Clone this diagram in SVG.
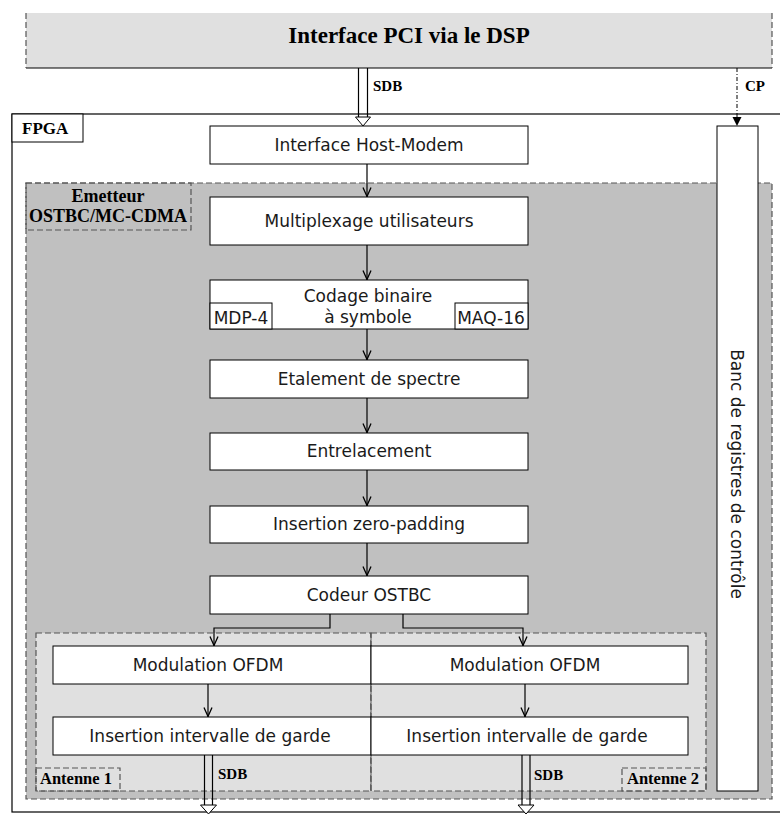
<svg xmlns="http://www.w3.org/2000/svg" width="780" height="814" viewBox="0 0 780 814">
<defs>
<marker id="v" markerWidth="10" markerHeight="10" refX="10" refY="5" orient="auto" markerUnits="userSpaceOnUse" viewBox="0 0 10 10">
<path d="M0.5,1 L9.5,5 L0.5,9" fill="none" stroke="#000" stroke-width="1.3"/>
</marker>
<style>
.box{fill:#fff;stroke:#000;stroke-width:1}
.t{font-family:"DejaVu Sans",Verdana,sans-serif;font-size:17px;fill:#1a1a1a;text-anchor:middle}
.b{font-family:"Liberation Serif","Times New Roman",serif;font-weight:bold;fill:#000}
.dash{stroke:#555;stroke-width:1.2;stroke-dasharray:6,3;fill:none}
.ln{stroke:#000;stroke-width:1.2;fill:none}
.arr{stroke:#000;stroke-width:1.2;fill:none;marker-end:url(#v)}
.hollow{fill:#fff;stroke:#000;stroke-width:1}
</style>
</defs>

<g id="pci">
<rect x="26" y="13" width="746" height="55" fill="#e0e0e0"/>
<line x1="26" y1="68" x2="772" y2="68" class="ln"/>
<line x1="26" y1="13" x2="26" y2="68" class="dash"/>
<line x1="772" y1="13" x2="772" y2="68" class="dash"/>
<text x="409" y="43" class="b" font-size="23" text-anchor="middle">Interface PCI via le DSP</text>
</g>

<g id="fpga">
<rect x="12" y="114" width="772" height="698" fill="none" stroke="#000" stroke-width="1.2"/>
<rect x="12" y="114" width="71" height="28" class="box"/>
<text x="22" y="134" class="b" font-size="17">FPGA</text>
</g>

<g id="emetteur">
<rect x="26" y="183" width="746" height="616" class="dash" style="fill:#c0c0c0"/>
<rect x="26" y="183" width="165" height="47" class="dash"/>
<text x="108" y="202" class="b" font-size="18" text-anchor="middle">Emetteur</text>
<text x="108" y="222" class="b" font-size="18" text-anchor="middle">OSTBC/MC-CDMA</text>
</g>

<g id="antenne1">
<rect x="36" y="633" width="335" height="158" class="dash" style="fill:#e0e0e0"/>
<rect x="36" y="768" width="84" height="23" class="dash"/>
<text x="40" y="784" class="b" font-size="16.5">Antenne 1</text>
</g>

<g id="antenne2">
<rect x="371" y="633" width="335" height="158" class="dash" style="fill:#e0e0e0"/>
<line x1="371" y1="633" x2="371" y2="791" stroke="#555" stroke-width="1"/>
<rect x="622" y="768" width="84" height="23" class="dash"/>
<text x="627" y="784" class="b" font-size="16.5">Antenne 2</text>
</g>

<g id="host-modem">
<rect x="210" y="126" width="318" height="38" class="box"/>
<text x="369" y="151" class="t">Interface Host-Modem</text>
</g>

<g id="multiplexage">
<rect x="210" y="197" width="318" height="48" class="box"/>
<text x="369" y="227" class="t">Multiplexage utilisateurs</text>
</g>

<g id="codage">
<rect x="210" y="280" width="318" height="49" class="box"/>
<rect x="210" y="303" width="62" height="26" class="box"/>
<rect x="455" y="303" width="73" height="26" class="box"/>
<text x="368" y="302" class="t">Codage binaire</text>
<text x="368" y="323" class="t">à symbole</text>
<text x="241" y="324" class="t">MDP-4</text>
<text x="491" y="324" class="t">MAQ-16</text>
</g>

<g id="etalement">
<rect x="210" y="360" width="318" height="38" class="box"/>
<text x="369" y="385" class="t">Etalement de spectre</text>
</g>

<g id="entrelacement">
<rect x="210" y="433" width="318" height="37" class="box"/>
<text x="369" y="457" class="t">Entrelacement</text>
</g>

<g id="zero-padding">
<rect x="210" y="506" width="318" height="37" class="box"/>
<text x="369" y="530" class="t">Insertion zero-padding</text>
</g>

<g id="codeur">
<rect x="210" y="576" width="318" height="38" class="box"/>
<text x="369" y="601" class="t">Codeur OSTBC</text>
</g>

<g id="ofdm1">
<rect x="53" y="646" width="318" height="38" class="box"/>
<text x="208" y="671" class="t">Modulation OFDM</text>
</g>

<g id="ofdm2">
<rect x="371" y="646" width="317" height="38" class="box"/>
<text x="525" y="671" class="t">Modulation OFDM</text>
</g>

<g id="garde1">
<rect x="53" y="717" width="318" height="38" class="box"/>
<text x="210" y="742" class="t">Insertion intervalle de garde</text>
</g>

<g id="garde2">
<rect x="371" y="717" width="317" height="38" class="box"/>
<text x="527" y="742" class="t">Insertion intervalle de garde</text>
</g>

<g id="banc">
<rect x="717" y="126" width="41" height="665" class="box"/>
<text transform="translate(731,474) rotate(90)" class="t">Banc de registres de contrôle</text>
</g>

<g id="connectors">
<line x1="358.5" y1="68" x2="358.5" y2="117" class="ln"/>
<line x1="367.5" y1="68" x2="367.5" y2="117" class="ln"/>
<polygon points="355.5,117 370.5,117 363,126" class="hollow"/>
<text x="373" y="91" class="b" font-size="15">SDB</text>

<line x1="737" y1="68" x2="737" y2="117" stroke="#000" stroke-width="1" stroke-dasharray="4,2,1,2"/>
<polygon points="732.5,117 741.5,117 737,126" fill="#000"/>
<text x="745" y="91" class="b" font-size="15">CP</text>

<line x1="367" y1="164" x2="367" y2="197" class="arr"/>
<line x1="367" y1="245" x2="367" y2="280" class="arr"/>
<line x1="367" y1="329" x2="367" y2="360" class="arr"/>
<line x1="367" y1="398" x2="367" y2="433" class="arr"/>
<line x1="367" y1="470" x2="367" y2="506" class="arr"/>
<line x1="367" y1="543" x2="367" y2="576" class="arr"/>

<path d="M330,614 V628 H214 V646" class="arr"/>
<path d="M403,614 V628 H523 V646" class="arr"/>

<line x1="208" y1="684" x2="208" y2="717" class="arr"/>
<line x1="525" y1="684" x2="525" y2="717" class="arr"/>

<line x1="204.5" y1="755" x2="204.5" y2="805" class="ln"/>
<line x1="212.5" y1="755" x2="212.5" y2="805" class="ln"/>
<polygon points="200.5,805 216.5,805 208.5,814" class="hollow"/>
<text x="218" y="779" class="b" font-size="15">SDB</text>

<line x1="522" y1="755" x2="522" y2="805" class="ln"/>
<line x1="530" y1="755" x2="530" y2="805" class="ln"/>
<polygon points="518,805 534,805 526,814" class="hollow"/>
<text x="534" y="780" class="b" font-size="15">SDB</text>
</g>
</svg>
